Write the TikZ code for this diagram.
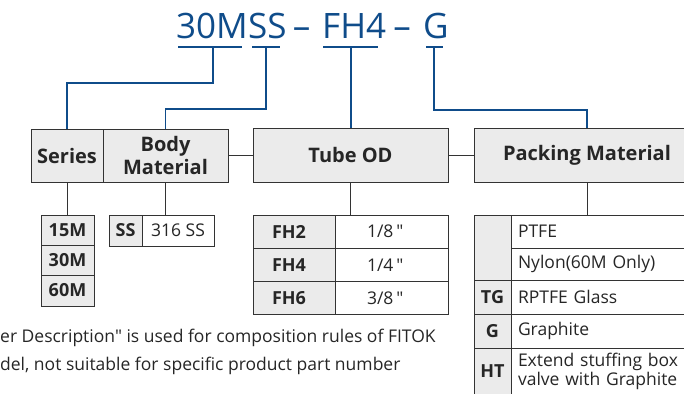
\documentclass[tikz,border=0pt]{standalone}
\usepackage{fontspec}
\setmainfont{Open Sans}
\newfontfamily\plainfont{Open Sans}
\usetikzlibrary{positioning}
\definecolor{fitokblue}{HTML}{0F4C8A}
\definecolor{cellgray}{HTML}{EBEBEB}
\definecolor{edgegray}{HTML}{333333}

\tikzset{
  codetitle/.style={text=fitokblue, font=\fontsize{35}{40}\selectfont, inner sep=0pt, anchor=base west},
  headbox/.style={draw=edgegray, fill=cellgray, line width=1pt, text=black!85,
    font=\fontsize{20}{23}\selectfont\bfseries, align=center, anchor=north west, inner sep=0pt, outer sep=0pt},
  codecell/.style={draw=edgegray, fill=cellgray, line width=1pt, text=black!85,
    font=\fontsize{18}{20}\selectfont\bfseries, anchor=north west, inner sep=0pt, outer sep=0pt},
  desccell/.style={draw=edgegray, fill=white, line width=1pt, text=black!85,
    font=\plainfont\fontsize{17.5}{19}\selectfont, anchor=north west, inner sep=0pt, outer sep=0pt},
  bluelink/.style={draw=fitokblue, line width=1.5pt},
  greylink/.style={draw=edgegray, line width=1pt},
  note/.style={text=black!85, font=\plainfont\fontsize{17.5}{20}\selectfont, inner sep=0pt, anchor=base west},
}

\begin{document}
\begin{tikzpicture}[x=1pt, y=-1pt]
  \useasboundingbox (0,0) rectangle (684,393);
  \clip (0,0) rectangle (684,393);

  % ordering code on top
  \node[codetitle] (t30m) at (176,39) {30M};
  \node[codetitle] (tss) at (t30m.base east) {SS};
  \node[codetitle, anchor=base] (dash1) at (301.5,39) {–};
  \node[codetitle] (tfh4) at (322,39) {FH4};
  \node[codetitle, anchor=base] (dash2) at (402,39) {–};
  \node[codetitle] (tg) at (423,39) {G};

  % underlines, the blue leads start from their middles
  \draw[bluelink] (178,47) -- (242,47);
  \draw[bluelink] (252,47) -- (280,47);
  \draw[bluelink] (323,47) -- (378,47);
  \draw[bluelink] (426,47) -- (443,47);
  \coordinate (k30m) at (213,47);
  \coordinate (kss) at (266,47);
  \coordinate (kfh4) at (351,47);
  \coordinate (kg) at (434,47);

  % heading boxes
  \node[headbox, minimum width=72pt, minimum height=53pt] (series) at (31,129) {Series};
  \node[headbox, minimum width=125pt, minimum height=53pt] (body) at (103,129) {Body\\Material};
  \node[headbox, minimum width=195pt, minimum height=54pt] (tube) at (253,128) {Tube OD};
  \node[headbox, minimum width=226pt, minimum height=54pt] (pack) at (474,128) {Packing Material};

  % series
  \node[codecell, minimum width=53pt, minimum height=30pt] (s15) at (41,215) {15M};
  \node[codecell, minimum width=53pt, minimum height=30pt] (s30) at (41,245) {30M};
  \node[codecell, minimum width=53pt, minimum height=31pt] (s60) at (41,275) {60M};

  % body material
  \node[codecell, minimum width=33pt, minimum height=31pt] (ss) at (109,215) {SS};
  \node[desccell, minimum width=72pt, minimum height=31pt] (ssd) at (142,215) {316 SS};

  % tube OD
  \foreach \code/\size/\y in {fh2/{1/8\,"}/215, fh4/{1/4\,"}/248.3, fh6/{3/8\,"}/281.6} {
    \node[codecell, text width=44pt, inner xsep=19pt, align=left, minimum height=33.3pt]
      (\code) at (253,\y) {\MakeUppercase{\code}};
    \node[desccell, text width=49pt, inner xsep=32pt, align=left, minimum height=33.3pt] (\code d) at (335,\y) {\size};
  }

  % packing material
  \node[codecell, minimum width=37pt, minimum height=65pt] (pnone) at (474,215) {};
  \node[desccell, text width=195pt, inner xsep=7pt, align=left, minimum height=33pt] (ptfe) at (511,215) {PTFE};
  \node[desccell, text width=195pt, inner xsep=7pt, align=left, minimum height=32pt] (nylon) at (511,248) {Nylon(60M Only)};
  \node[codecell, minimum width=37pt, minimum height=34pt] (ptg) at (474,280) {TG};
  \node[desccell, text width=195pt, inner xsep=7pt, align=left, minimum height=34pt] (ptgd) at (511,280) {RPTFE Glass};
  \node[codecell, minimum width=37pt, minimum height=34pt] (pg) at (474,314) {G};
  \node[desccell, text width=195pt, inner xsep=7pt, align=left, minimum height=34pt] (pgd) at (511,314) {Graphite};
  \node[codecell, minimum width=37pt, minimum height=47pt] (pht) at (474,348) {HT};
  \node[desccell, text width=195pt, inner xsep=7pt, align=left, minimum height=47pt] (phtd) at (511,348) {Extend stuffing box\\valve with Graphite};

  % blue leads from the code to the headings
  \draw[bluelink] (k30m) -- ++(0,36) -| (series.north);
  \draw[bluelink] (kss) -- ++(0,62) -| (body.north);
  \draw[bluelink] (kfh4) -- (kfh4 |- tube.north);
  \draw[bluelink] (kg) -- ++(0,63) -| (pack.north);

  % grey links
  \draw[greylink] (body.east) -- (body.east -| tube.west);
  \draw[greylink] (tube.east) -- (tube.east -| pack.west);
  \draw[greylink] (series.south) -- (series.south |- s15.north);
  \draw[greylink] (body.south) -- (body.south |- ss.north);
  \draw[greylink] (tube.south) -- (tube.south |- fh2.north);
  \draw[greylink] (pack.south) -- (pack.south |- ptfe.north);

  % note below
  \node[note] (noteA) at (0,342) {er Description" is used for composition rules of FITOK};
  \node[note] (noteB) at (0,370) {del, not suitable for specific product part number};
\end{tikzpicture}
\end{document}
